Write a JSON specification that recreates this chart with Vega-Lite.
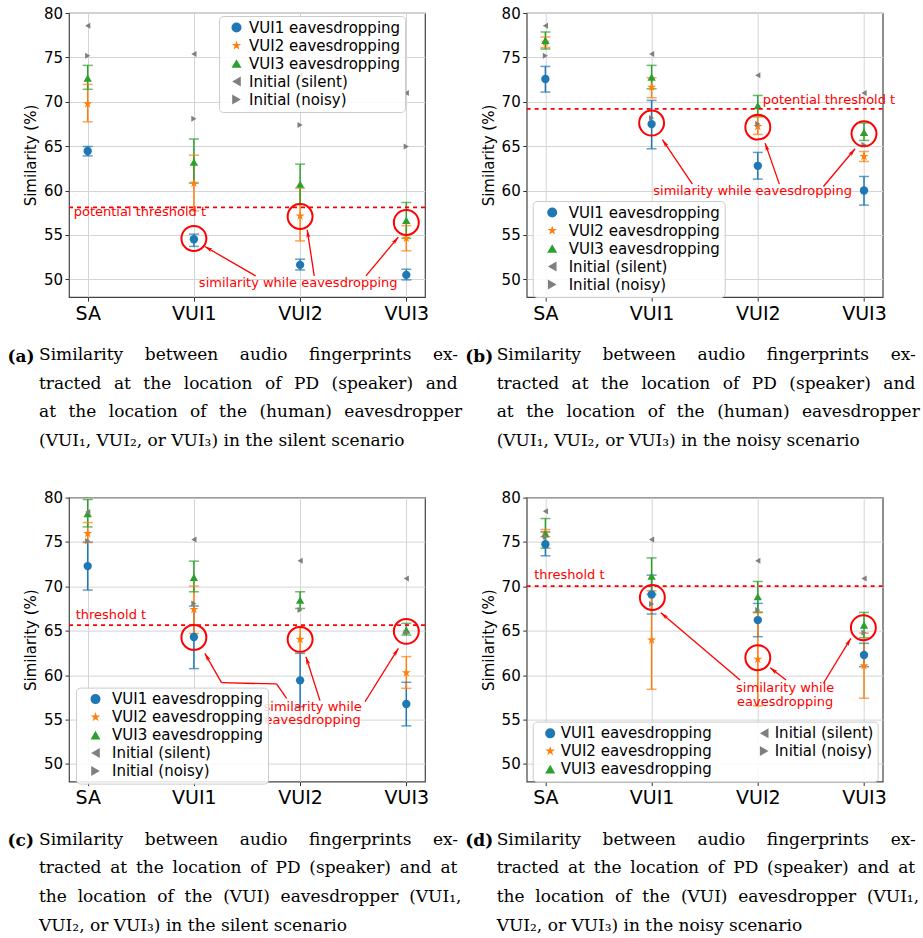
{
"$schema": "https://vega.github.io/schema/vega-lite/v6.json",
"background": "white",
"padding": {"left": 6, "top": 5, "right": 5, "bottom": 5},
"config": {
 "view": {"stroke": "#444444", "strokeWidth": 1.2},
 "axis": {"gridColor": "#d4d4d4", "gridWidth": 1, "domain": false, "tickColor": "#333333", "tickSize": 4, "tickWidth": 1, "labelColor": "#000000", "titleColor": "#000000", "labelFont": "DejaVu Sans"},
 "axisX": {"labelFontSize": 19, "labelPadding": 3, "titleFont": "DejaVu Serif", "titleFontSize": 17, "titleFontWeight": "bold", "titleX": -62, "titleY": 64, "titleAlign": "left", "titleBaseline": "alphabetic", "titleAnchor": "start"},
 "axisY": {"labelFontSize": 15, "labelPadding": 2.5, "titleFont": "DejaVu Sans", "titleFontSize": 15, "titleFontWeight": "normal", "titlePadding": 5},
 "legend": {"labelFont": "DejaVu Sans", "labelFontSize": 15, "labelColor": "#000000", "fillColor": "rgba(255,255,255,0.85)", "strokeColor": "#cccccc", "cornerRadius": 4, "padding": 4, "rowPadding": 2, "labelOffset": 5, "symbolOffset": 4, "labelLimit": 400},
 "title": {"orient": "bottom", "anchor": "start", "frame": "group", "align": "left", "baseline": "top", "dx": -30, "offset": -17, "font": "DejaVu Serif", "fontSize": 17, "fontWeight": "normal", "color": "#000000", "lineHeight": 28.7}
},
"datasets": {
 "pts": [
  {"p":"a","x":0,"s":"VUI1 eavesdropping","v":64.45,"lo":63.9,"hi":64.96},
  {"p":"a","x":0,"s":"VUI2 eavesdropping","v":69.77,"lo":67.74,"hi":71.95},
  {"p":"a","x":0,"s":"VUI3 eavesdropping","v":72.67,"lo":71.4,"hi":74.1},
  {"p":"a","x":0,"s":"Initial (silent)","v":78.57},
  {"p":"a","x":0,"s":"Initial (noisy)","v":75.19},
  {"p":"a","x":1,"s":"VUI1 eavesdropping","v":54.51,"lo":53.7,"hi":55.08},
  {"p":"a","x":1,"s":"VUI2 eavesdropping","v":60.83,"lo":57.7,"hi":63.98},
  {"p":"a","x":1,"s":"VUI3 eavesdropping","v":63.2,"lo":60.83,"hi":65.8},
  {"p":"a","x":1,"s":"Initial (silent)","v":75.38},
  {"p":"a","x":1,"s":"Initial (noisy)","v":68.08},
  {"p":"a","x":2,"s":"VUI1 eavesdropping","v":51.62,"lo":51.05,"hi":52.26},
  {"p":"a","x":2,"s":"VUI2 eavesdropping","v":57.14,"lo":54.32,"hi":60.26},
  {"p":"a","x":2,"s":"VUI3 eavesdropping","v":60.71,"lo":58.45,"hi":62.97},
  {"p":"a","x":2,"s":"Initial (silent)","v":73.0},
  {"p":"a","x":2,"s":"Initial (noisy)","v":67.37},
  {"p":"a","x":3,"s":"VUI1 eavesdropping","v":50.49,"lo":49.93,"hi":51.13},
  {"p":"a","x":3,"s":"VUI2 eavesdropping","v":54.62,"lo":53.2,"hi":56.04},
  {"p":"a","x":3,"s":"VUI3 eavesdropping","v":56.62,"lo":54.6,"hi":58.65},
  {"p":"a","x":3,"s":"Initial (silent)","v":71.0},
  {"p":"a","x":3,"s":"Initial (noisy)","v":64.96},
  {"p":"b","x":0,"s":"VUI1 eavesdropping","v":72.56,"lo":71.09,"hi":73.98},
  {"p":"b","x":0,"s":"VUI2 eavesdropping","v":76.7,"lo":76.1,"hi":77.3},
  {"p":"b","x":0,"s":"VUI3 eavesdropping","v":76.92,"lo":75.94,"hi":77.86},
  {"p":"b","x":0,"s":"Initial (silent)","v":78.57},
  {"p":"b","x":0,"s":"Initial (noisy)","v":75.19},
  {"p":"b","x":1,"s":"VUI1 eavesdropping","v":67.48,"lo":64.7,"hi":70.15},
  {"p":"b","x":1,"s":"VUI2 eavesdropping","v":71.65,"lo":70.45,"hi":72.71},
  {"p":"b","x":1,"s":"VUI3 eavesdropping","v":72.78,"lo":71.47,"hi":74.1},
  {"p":"b","x":1,"s":"Initial (silent)","v":75.38},
  {"p":"b","x":1,"s":"Initial (noisy)","v":68.16},
  {"p":"b","x":2,"s":"VUI1 eavesdropping","v":62.78,"lo":61.28,"hi":64.29},
  {"p":"b","x":2,"s":"VUI2 eavesdropping","v":67.22,"lo":66.32,"hi":68.27},
  {"p":"b","x":2,"s":"VUI3 eavesdropping","v":69.55,"lo":68.39,"hi":70.71},
  {"p":"b","x":2,"s":"Initial (silent)","v":73.0},
  {"p":"b","x":2,"s":"Initial (noisy)","v":67.48},
  {"p":"b","x":3,"s":"VUI1 eavesdropping","v":60.0,"lo":58.35,"hi":61.58},
  {"p":"b","x":3,"s":"VUI2 eavesdropping","v":63.83,"lo":63.27,"hi":64.4},
  {"p":"b","x":3,"s":"VUI3 eavesdropping","v":66.54,"lo":65.64,"hi":67.6},
  {"p":"b","x":3,"s":"Initial (silent)","v":70.98},
  {"p":"b","x":3,"s":"Initial (noisy)","v":65.15},
  {"p":"c","x":0,"s":"VUI1 eavesdropping","v":72.28,"lo":69.58,"hi":74.98},
  {"p":"c","x":0,"s":"VUI2 eavesdropping","v":75.95,"lo":74.94,"hi":77.19},
  {"p":"c","x":0,"s":"VUI3 eavesdropping","v":78.2,"lo":76.7,"hi":79.78},
  {"p":"c","x":0,"s":"Initial (silent)","v":78.39},
  {"p":"c","x":0,"s":"Initial (noisy)","v":75.1},
  {"p":"c","x":1,"s":"VUI1 eavesdropping","v":64.29,"lo":60.73,"hi":67.78},
  {"p":"c","x":1,"s":"VUI2 eavesdropping","v":67.4,"lo":64.7,"hi":70.03},
  {"p":"c","x":1,"s":"VUI3 eavesdropping","v":71.0,"lo":69.39,"hi":72.84},
  {"p":"c","x":1,"s":"Initial (silent)","v":75.28},
  {"p":"c","x":1,"s":"Initial (noisy)","v":68.08},
  {"p":"c","x":2,"s":"VUI1 eavesdropping","v":59.41,"lo":56.45,"hi":62.45},
  {"p":"c","x":2,"s":"VUI2 eavesdropping","v":64.03,"lo":62.6,"hi":65.45},
  {"p":"c","x":2,"s":"VUI3 eavesdropping","v":68.45,"lo":67.51,"hi":69.39},
  {"p":"c","x":2,"s":"Initial (silent)","v":72.88},
  {"p":"c","x":2,"s":"Initial (noisy)","v":67.33},
  {"p":"c","x":3,"s":"VUI1 eavesdropping","v":56.75,"lo":54.28,"hi":59.19},
  {"p":"c","x":3,"s":"VUI2 eavesdropping","v":60.28,"lo":58.51,"hi":62.08},
  {"p":"c","x":3,"s":"VUI3 eavesdropping","v":65.08,"lo":64.51,"hi":65.83},
  {"p":"c","x":3,"s":"Initial (silent)","v":70.89},
  {"p":"c","x":3,"s":"Initial (noisy)","v":64.8},
  {"p":"d","x":0,"s":"VUI1 eavesdropping","v":74.75,"lo":73.44,"hi":76.14},
  {"p":"d","x":0,"s":"VUI2 eavesdropping","v":76.0,"lo":75.6,"hi":76.4},
  {"p":"d","x":0,"s":"VUI3 eavesdropping","v":75.95,"lo":74.3,"hi":77.64},
  {"p":"d","x":0,"s":"Initial (silent)","v":78.46},
  {"p":"d","x":0,"s":"Initial (noisy)","v":75.58},
  {"p":"d","x":1,"s":"VUI1 eavesdropping","v":69.09,"lo":66.88,"hi":71.26},
  {"p":"d","x":1,"s":"VUI2 eavesdropping","v":63.95,"lo":58.4,"hi":69.5},
  {"p":"d","x":1,"s":"VUI3 eavesdropping","v":71.15,"lo":69.1,"hi":73.21},
  {"p":"d","x":1,"s":"Initial (silent)","v":75.28},
  {"p":"d","x":1,"s":"Initial (noisy)","v":68.0},
  {"p":"d","x":2,"s":"VUI1 eavesdropping","v":66.2,"lo":64.33,"hi":68.08},
  {"p":"d","x":2,"s":"VUI2 eavesdropping","v":61.78,"lo":56.53,"hi":67.03},
  {"p":"d","x":2,"s":"VUI3 eavesdropping","v":68.83,"lo":67.1,"hi":70.55},
  {"p":"d","x":2,"s":"Initial (silent)","v":72.88},
  {"p":"d","x":2,"s":"Initial (noisy)","v":67.33},
  {"p":"d","x":3,"s":"VUI1 eavesdropping","v":62.26,"lo":60.95,"hi":63.58},
  {"p":"d","x":3,"s":"VUI2 eavesdropping","v":61.06,"lo":57.39,"hi":64.73},
  {"p":"d","x":3,"s":"VUI3 eavesdropping","v":65.64,"lo":64.2,"hi":67.06},
  {"p":"d","x":3,"s":"Initial (silent)","v":70.89},
  {"p":"d","x":3,"s":"Initial (noisy)","v":64.78}
 ],
 "thr": [
  {"p":"a","v":58.1,"label":"potential threshold t","tx":-0.132,"ty":57.56},
  {"p":"b","v":69.2,"label":"potential threshold t","tx":2.047,"ty":70.2},
  {"p":"c","v":65.64,"label":"threshold t","tx":-0.113,"ty":66.73},
  {"p":"d","v":70.03,"label":"threshold t","tx":-0.106,"ty":71.26}
 ],
 "circ": [
  {"p":"a","x":1,"v":54.6},{"p":"a","x":2,"v":57.07},{"p":"a","x":3,"v":56.4},
  {"p":"b","x":1,"v":67.6},{"p":"b","x":2,"v":67.14},{"p":"b","x":3,"v":66.39},
  {"p":"c","x":1,"v":64.25},{"p":"c","x":2,"v":64.03},{"p":"c","x":3,"v":64.93},
  {"p":"d","x":1.007,"v":68.75},{"p":"d","x":2,"v":61.96},{"p":"d","x":2.994,"v":65.34}
 ],
 "notes": [
  {"p":"a","x":1.982,"v":49.55,"text":"similarity while eavesdropping"},
  {"p":"b","x":1.951,"v":59.96,"text":"similarity while eavesdropping"},
  {"p":"c","x":2.118,"v":56.45,"text":"similarity while"},
  {"p":"c","x":2.118,"v":54.95,"text":"eavesdropping"},
  {"p":"d","x":2.258,"v":58.52,"text":"similarity while"},
  {"p":"d","x":2.258,"v":56.94,"text":"eavesdropping"}
 ],
 "seg": [
  {"p":"a","x":1.581,"v":50.38,"x2":1.103,"v2":53.69},
  {"p":"a","x":2.133,"v":50.38,"x2":2.067,"v2":55.57},
  {"p":"a","x":2.62,"v":50.38,"x2":2.925,"v2":54.75},
  {"p":"b","x":1.384,"v":60.72,"x2":1.102,"v2":65.72},
  {"p":"b","x":2.203,"v":60.72,"x2":2.069,"v2":65.34},
  {"p":"b","x":2.618,"v":60.45,"x2":2.916,"v2":64.7},
  {"p":"c","x":1.873,"v":57.39,"x2":1.778,"v2":59.0},
  {"p":"c","x":1.778,"v":59.0,"x2":1.26,"v2":59.15},
  {"p":"c","x":1.26,"v":59.15,"x2":1.103,"v2":62.45},
  {"p":"c","x":2.187,"v":57.12,"x2":2.055,"v2":62.07},
  {"p":"c","x":2.611,"v":57.0,"x2":2.925,"v2":63.01},
  {"p":"d","x":1.833,"v":59.45,"x2":1.087,"v2":67.02},
  {"p":"d","x":2.266,"v":59.45,"x2":2.116,"v2":60.83},
  {"p":"d","x":2.618,"v":59.08,"x2":2.876,"v2":64.14}
 ],
 "heads": [
  {"p":"a","x":1.103,"v":53.69,"a":300},{"p":"a","x":2.067,"v":55.57,"a":351},{"p":"a","x":2.925,"v":54.75,"a":40},
  {"p":"b","x":1.102,"v":65.72,"a":326},{"p":"b","x":2.069,"v":65.34,"a":341},{"p":"b","x":2.916,"v":64.7,"a":40},
  {"p":"c","x":1.103,"v":62.45,"a":330},{"p":"c","x":2.055,"v":62.07,"a":342},{"p":"c","x":2.925,"v":63.01,"a":32},
  {"p":"d","x":1.087,"v":67.02,"a":310},{"p":"d","x":2.116,"v":60.83,"a":308},{"p":"d","x":2.876,"v":64.14,"a":31}
 ]
},
"columns": 2,
"spacing": {"row": 200.6, "column": 101.7},
"bounds": "flush",
"resolve": {"scale": {"color": "independent", "shape": "independent"}, "legend": {"color": "independent", "shape": "independent"}},
"concat": [
  {"width": 356, "height": 284,
   "title": {"text": ["Similarity\u00a0\u00a0\u00a0 between\u00a0\u00a0\u00a0 audio\u00a0\u00a0\u00a0 fingerprints\u00a0\u00a0\u00a0 ex-", "tracted\u00a0\u200a at\u00a0\u200a the\u00a0\u200a location\u00a0\u200a of\u00a0\u200a PD\u00a0\u200a (speaker)\u00a0\u200a and", "at\u00a0\u200a the\u00a0\u200a location\u00a0\u200a of\u00a0\u200a the\u00a0\u200a (human)\u00a0\u200a eavesdropper", "(VUI₁, VUI₂, or VUI₃) in the silent scenario"]},
   "layer": [
    {"data": {"name": "pts"}, "transform": [{"filter": "datum.p === 'a' && isValid(datum.lo)"}],
     "mark": {"type": "rule", "strokeWidth": 1.5},
     "encoding": {
      "x": {"field": "x", "type": "quantitative", "title": "(a)", "scale": {"domain": [-0.176, 3.176], "nice": false, "zero": false}, "axis": {"values": [0,1,2,3], "labelExpr": "['SA','VUI1','VUI2','VUI3'][datum.value]", "grid": true}},
      "y": {"field": "lo", "type": "quantitative", "title": "Similarity (%)", "scale": {"domain": [48, 80], "nice": false, "zero": false}, "axis": {"values": [50,55,60,65,70,75,80], "grid": true}},
      "y2": {"field": "hi"},
      "color": {"condition": [{"test": "datum.s === 'VUI1 eavesdropping'", "value": "#1f77b4"}, {"test": "datum.s === 'VUI2 eavesdropping'", "value": "#ff7f0e"}], "value": "#2ca02c"}}},
    {"data": {"name": "pts"}, "transform": [{"filter": "datum.p === 'a' && isValid(datum.lo)"}, {"fold": ["lo", "hi"], "as": ["k", "e"]}],
     "mark": {"type": "tick", "orient": "horizontal", "size": 10, "thickness": 1.5},
     "encoding": {
      "x": {"field": "x", "type": "quantitative", "title": "(a)", "scale": {"domain": [-0.176, 3.176], "nice": false, "zero": false}},
      "y": {"field": "e", "type": "quantitative", "title": "Similarity (%)", "scale": {"domain": [48, 80], "nice": false, "zero": false}},
      "color": {"condition": [{"test": "datum.s === 'VUI1 eavesdropping'", "value": "#1f77b4"}, {"test": "datum.s === 'VUI2 eavesdropping'", "value": "#ff7f0e"}], "value": "#2ca02c"}}},
    {"data": {"name": "pts"}, "transform": [{"filter": "datum.p === 'a'"}],
     "mark": {"type": "point", "filled": true, "opacity": 1},
     "encoding": {
      "x": {"field": "x", "type": "quantitative", "title": "(a)", "scale": {"domain": [-0.176, 3.176], "nice": false, "zero": false}},
      "y": {"field": "v", "type": "quantitative", "title": "Similarity (%)", "scale": {"domain": [48, 80], "nice": false, "zero": false}},
      "color": {"field": "s", "type": "nominal", "scale": {"domain": ["VUI1 eavesdropping", "VUI2 eavesdropping", "VUI3 eavesdropping", "Initial (silent)", "Initial (noisy)"], "range": ["#1f77b4", "#ff7f0e", "#2ca02c", "#7f7f7f", "#7f7f7f"]},
       "legend": {"orient": "none", "legendX": 150, "legendY": 3, "title": null, "symbolOffset": 6, "labelOffset": 5, "encode": {"symbols": {"update": {"size": {"signal": "datum.value === 'Initial (silent)' || datum.value === 'Initial (noisy)' ? 30 : datum.value === 'VUI2 eavesdropping' ? 80 : 64"}}}}}},
      "shape": {"field": "s", "type": "nominal", "scale": {"domain": ["VUI1 eavesdropping", "VUI2 eavesdropping", "VUI3 eavesdropping", "Initial (silent)", "Initial (noisy)"], "range": ["circle", "M0,-1L0.2245,-0.309L0.9511,-0.309L0.3633,0.118L0.5878,0.809L0,0.382L-0.5878,0.809L-0.3633,0.118L-0.9511,-0.309L-0.2245,-0.309Z", "triangle-up", "triangle-left", "triangle-right"]}},
      "size": {"condition": [{"test": "datum.s === 'Initial (silent)' || datum.s === 'Initial (noisy)'", "value": 36}, {"test": "datum.s === 'VUI2 eavesdropping'", "value": 90}], "value": 70}}},
    {"data": {"name": "thr"}, "transform": [{"filter": "datum.p === 'a'"}],
     "mark": {"type": "rule", "color": "#ff0000", "strokeWidth": 1.8, "strokeDash": [4, 4]},
     "encoding": {"y": {"field": "v", "type": "quantitative", "title": "Similarity (%)", "scale": {"domain": [48, 80], "nice": false, "zero": false}}}},
    {"data": {"name": "thr"}, "transform": [{"filter": "datum.p === 'a'"}],
     "mark": {"type": "text", "align": "left", "baseline": "middle", "color": "#ff0000", "fontSize": 13, "font": "DejaVu Sans"},
     "encoding": {
      "x": {"field": "tx", "type": "quantitative", "title": "(a)", "scale": {"domain": [-0.176, 3.176], "nice": false, "zero": false}},
      "y": {"field": "ty", "type": "quantitative", "title": "Similarity (%)", "scale": {"domain": [48, 80], "nice": false, "zero": false}},
      "text": {"field": "label"}}},
    {"data": {"name": "circ"}, "transform": [{"filter": "datum.p === 'a'"}],
     "mark": {"type": "point", "shape": "circle", "filled": false, "color": "#ff0000", "strokeWidth": 2, "size": 620, "opacity": 1},
     "encoding": {
      "x": {"field": "x", "type": "quantitative", "title": "(a)", "scale": {"domain": [-0.176, 3.176], "nice": false, "zero": false}},
      "y": {"field": "v", "type": "quantitative", "title": "Similarity (%)", "scale": {"domain": [48, 80], "nice": false, "zero": false}}}},
    {"data": {"name": "seg"}, "transform": [{"filter": "datum.p === 'a'"}],
     "mark": {"type": "rule", "color": "#ff0000", "strokeWidth": 1.3},
     "encoding": {
      "x": {"field": "x", "type": "quantitative", "title": "(a)", "scale": {"domain": [-0.176, 3.176], "nice": false, "zero": false}},
      "y": {"field": "v", "type": "quantitative", "title": "Similarity (%)", "scale": {"domain": [48, 80], "nice": false, "zero": false}},
      "x2": {"field": "x2"}, "y2": {"field": "v2"}}},
    {"data": {"name": "heads"}, "transform": [{"filter": "datum.p === 'a'"}],
     "mark": {"type": "point", "shape": "M0,0L-0.5,2L0,1.5L0.5,2Z", "filled": true, "color": "#ff0000", "size": 64, "opacity": 1},
     "encoding": {
      "x": {"field": "x", "type": "quantitative", "title": "(a)", "scale": {"domain": [-0.176, 3.176], "nice": false, "zero": false}},
      "y": {"field": "v", "type": "quantitative", "title": "Similarity (%)", "scale": {"domain": [48, 80], "nice": false, "zero": false}},
      "angle": {"field": "a", "type": "quantitative", "scale": null}}},
    {"data": {"name": "notes"}, "transform": [{"filter": "datum.p === 'a'"}],
     "mark": {"type": "text", "align": "center", "baseline": "middle", "color": "#ff0000", "fontSize": 13, "font": "DejaVu Sans"},
     "encoding": {
      "x": {"field": "x", "type": "quantitative", "title": "(a)", "scale": {"domain": [-0.176, 3.176], "nice": false, "zero": false}},
      "y": {"field": "v", "type": "quantitative", "title": "Similarity (%)", "scale": {"domain": [48, 80], "nice": false, "zero": false}},
      "text": {"field": "text"}}}
   ]},
  {"width": 356, "height": 284,
   "title": {"text": ["Similarity\u00a0\u00a0\u00a0 between\u00a0\u00a0\u00a0 audio\u00a0\u00a0\u00a0 fingerprints\u00a0\u00a0\u00a0 ex-", "tracted\u00a0\u200a at\u00a0\u200a the\u00a0\u200a location\u00a0\u200a of\u00a0\u200a PD\u00a0\u200a (speaker)\u00a0\u200a and", "at\u00a0\u200a the\u00a0\u200a location\u00a0\u200a of\u00a0\u200a the\u00a0\u200a (human)\u00a0\u200a eavesdropper", "(VUI₁, VUI₂, or VUI₃) in the noisy scenario"]},
   "layer": [
    {"data": {"name": "pts"}, "transform": [{"filter": "datum.p === 'b' && isValid(datum.lo)"}],
     "mark": {"type": "rule", "strokeWidth": 1.5},
     "encoding": {
      "x": {"field": "x", "type": "quantitative", "title": "(b)", "scale": {"domain": [-0.176, 3.176], "nice": false, "zero": false}, "axis": {"values": [0,1,2,3], "labelExpr": "['SA','VUI1','VUI2','VUI3'][datum.value]", "grid": true}},
      "y": {"field": "lo", "type": "quantitative", "title": "Similarity (%)", "scale": {"domain": [48, 80], "nice": false, "zero": false}, "axis": {"values": [50,55,60,65,70,75,80], "grid": true}},
      "y2": {"field": "hi"},
      "color": {"condition": [{"test": "datum.s === 'VUI1 eavesdropping'", "value": "#1f77b4"}, {"test": "datum.s === 'VUI2 eavesdropping'", "value": "#ff7f0e"}], "value": "#2ca02c"}}},
    {"data": {"name": "pts"}, "transform": [{"filter": "datum.p === 'b' && isValid(datum.lo)"}, {"fold": ["lo", "hi"], "as": ["k", "e"]}],
     "mark": {"type": "tick", "orient": "horizontal", "size": 10, "thickness": 1.5},
     "encoding": {
      "x": {"field": "x", "type": "quantitative", "title": "(b)", "scale": {"domain": [-0.176, 3.176], "nice": false, "zero": false}},
      "y": {"field": "e", "type": "quantitative", "title": "Similarity (%)", "scale": {"domain": [48, 80], "nice": false, "zero": false}},
      "color": {"condition": [{"test": "datum.s === 'VUI1 eavesdropping'", "value": "#1f77b4"}, {"test": "datum.s === 'VUI2 eavesdropping'", "value": "#ff7f0e"}], "value": "#2ca02c"}}},
    {"data": {"name": "pts"}, "transform": [{"filter": "datum.p === 'b'"}],
     "mark": {"type": "point", "filled": true, "opacity": 1},
     "encoding": {
      "x": {"field": "x", "type": "quantitative", "title": "(b)", "scale": {"domain": [-0.176, 3.176], "nice": false, "zero": false}},
      "y": {"field": "v", "type": "quantitative", "title": "Similarity (%)", "scale": {"domain": [48, 80], "nice": false, "zero": false}},
      "color": {"field": "s", "type": "nominal", "scale": {"domain": ["VUI1 eavesdropping", "VUI2 eavesdropping", "VUI3 eavesdropping", "Initial (silent)", "Initial (noisy)"], "range": ["#1f77b4", "#ff7f0e", "#2ca02c", "#7f7f7f", "#7f7f7f"]},
       "legend": {"orient": "none", "legendX": 6, "legendY": 188, "title": null, "labelOffset": 9, "symbolOffset": 8, "encode": {"symbols": {"update": {"size": {"signal": "datum.value === 'Initial (silent)' || datum.value === 'Initial (noisy)' ? 30 : datum.value === 'VUI2 eavesdropping' ? 80 : 64"}}}}}},
      "shape": {"field": "s", "type": "nominal", "scale": {"domain": ["VUI1 eavesdropping", "VUI2 eavesdropping", "VUI3 eavesdropping", "Initial (silent)", "Initial (noisy)"], "range": ["circle", "M0,-1L0.2245,-0.309L0.9511,-0.309L0.3633,0.118L0.5878,0.809L0,0.382L-0.5878,0.809L-0.3633,0.118L-0.9511,-0.309L-0.2245,-0.309Z", "triangle-up", "triangle-left", "triangle-right"]}},
      "size": {"condition": [{"test": "datum.s === 'Initial (silent)' || datum.s === 'Initial (noisy)'", "value": 36}, {"test": "datum.s === 'VUI2 eavesdropping'", "value": 90}], "value": 70}}},
    {"data": {"name": "thr"}, "transform": [{"filter": "datum.p === 'b'"}],
     "mark": {"type": "rule", "color": "#ff0000", "strokeWidth": 1.8, "strokeDash": [4, 4]},
     "encoding": {"y": {"field": "v", "type": "quantitative", "title": "Similarity (%)", "scale": {"domain": [48, 80], "nice": false, "zero": false}}}},
    {"data": {"name": "thr"}, "transform": [{"filter": "datum.p === 'b'"}],
     "mark": {"type": "text", "align": "left", "baseline": "middle", "color": "#ff0000", "fontSize": 13, "font": "DejaVu Sans"},
     "encoding": {
      "x": {"field": "tx", "type": "quantitative", "title": "(b)", "scale": {"domain": [-0.176, 3.176], "nice": false, "zero": false}},
      "y": {"field": "ty", "type": "quantitative", "title": "Similarity (%)", "scale": {"domain": [48, 80], "nice": false, "zero": false}},
      "text": {"field": "label"}}},
    {"data": {"name": "circ"}, "transform": [{"filter": "datum.p === 'b'"}],
     "mark": {"type": "point", "shape": "circle", "filled": false, "color": "#ff0000", "strokeWidth": 2, "size": 620, "opacity": 1},
     "encoding": {
      "x": {"field": "x", "type": "quantitative", "title": "(b)", "scale": {"domain": [-0.176, 3.176], "nice": false, "zero": false}},
      "y": {"field": "v", "type": "quantitative", "title": "Similarity (%)", "scale": {"domain": [48, 80], "nice": false, "zero": false}}}},
    {"data": {"name": "seg"}, "transform": [{"filter": "datum.p === 'b'"}],
     "mark": {"type": "rule", "color": "#ff0000", "strokeWidth": 1.3},
     "encoding": {
      "x": {"field": "x", "type": "quantitative", "title": "(b)", "scale": {"domain": [-0.176, 3.176], "nice": false, "zero": false}},
      "y": {"field": "v", "type": "quantitative", "title": "Similarity (%)", "scale": {"domain": [48, 80], "nice": false, "zero": false}},
      "x2": {"field": "x2"}, "y2": {"field": "v2"}}},
    {"data": {"name": "heads"}, "transform": [{"filter": "datum.p === 'b'"}],
     "mark": {"type": "point", "shape": "M0,0L-0.5,2L0,1.5L0.5,2Z", "filled": true, "color": "#ff0000", "size": 64, "opacity": 1},
     "encoding": {
      "x": {"field": "x", "type": "quantitative", "title": "(b)", "scale": {"domain": [-0.176, 3.176], "nice": false, "zero": false}},
      "y": {"field": "v", "type": "quantitative", "title": "Similarity (%)", "scale": {"domain": [48, 80], "nice": false, "zero": false}},
      "angle": {"field": "a", "type": "quantitative", "scale": null}}},
    {"data": {"name": "notes"}, "transform": [{"filter": "datum.p === 'b'"}],
     "mark": {"type": "text", "align": "center", "baseline": "middle", "color": "#ff0000", "fontSize": 13, "font": "DejaVu Sans"},
     "encoding": {
      "x": {"field": "x", "type": "quantitative", "title": "(b)", "scale": {"domain": [-0.176, 3.176], "nice": false, "zero": false}},
      "y": {"field": "v", "type": "quantitative", "title": "Similarity (%)", "scale": {"domain": [48, 80], "nice": false, "zero": false}},
      "text": {"field": "text"}}}
   ]},
  {"width": 356, "height": 284,
   "title": {"text": ["Similarity\u00a0\u00a0\u00a0 between\u00a0\u00a0\u00a0 audio\u00a0\u00a0\u00a0 fingerprints\u00a0\u00a0\u00a0 ex-", "tracted\u2009 at\u2009 the\u2009 location\u2009 of\u2009 PD\u2009 (speaker)\u2009 and\u2009 at", "the\u00a0 location\u00a0 of\u00a0 the\u00a0 (VUI)\u00a0 eavesdropper\u00a0 (VUI₁,", "VUI₂, or VUI₃) in the silent scenario"]},
   "layer": [
    {"data": {"name": "pts"}, "transform": [{"filter": "datum.p === 'c' && isValid(datum.lo)"}],
     "mark": {"type": "rule", "strokeWidth": 1.5},
     "encoding": {
      "x": {"field": "x", "type": "quantitative", "title": "(c)", "scale": {"domain": [-0.176, 3.176], "nice": false, "zero": false}, "axis": {"values": [0,1,2,3], "labelExpr": "['SA','VUI1','VUI2','VUI3'][datum.value]", "grid": true}},
      "y": {"field": "lo", "type": "quantitative", "title": "Similarity (%)", "scale": {"domain": [48, 80], "nice": false, "zero": false}, "axis": {"values": [50,55,60,65,70,75,80], "grid": true}},
      "y2": {"field": "hi"},
      "color": {"condition": [{"test": "datum.s === 'VUI1 eavesdropping'", "value": "#1f77b4"}, {"test": "datum.s === 'VUI2 eavesdropping'", "value": "#ff7f0e"}], "value": "#2ca02c"}}},
    {"data": {"name": "pts"}, "transform": [{"filter": "datum.p === 'c' && isValid(datum.lo)"}, {"fold": ["lo", "hi"], "as": ["k", "e"]}],
     "mark": {"type": "tick", "orient": "horizontal", "size": 10, "thickness": 1.5},
     "encoding": {
      "x": {"field": "x", "type": "quantitative", "title": "(c)", "scale": {"domain": [-0.176, 3.176], "nice": false, "zero": false}},
      "y": {"field": "e", "type": "quantitative", "title": "Similarity (%)", "scale": {"domain": [48, 80], "nice": false, "zero": false}},
      "color": {"condition": [{"test": "datum.s === 'VUI1 eavesdropping'", "value": "#1f77b4"}, {"test": "datum.s === 'VUI2 eavesdropping'", "value": "#ff7f0e"}], "value": "#2ca02c"}}},
    {"data": {"name": "pts"}, "transform": [{"filter": "datum.p === 'c'"}],
     "mark": {"type": "point", "filled": true, "opacity": 1},
     "encoding": {
      "x": {"field": "x", "type": "quantitative", "title": "(c)", "scale": {"domain": [-0.176, 3.176], "nice": false, "zero": false}},
      "y": {"field": "v", "type": "quantitative", "title": "Similarity (%)", "scale": {"domain": [48, 80], "nice": false, "zero": false}},
      "color": {"field": "s", "type": "nominal", "scale": {"domain": ["VUI1 eavesdropping", "VUI2 eavesdropping", "VUI3 eavesdropping", "Initial (silent)", "Initial (noisy)"], "range": ["#1f77b4", "#ff7f0e", "#2ca02c", "#7f7f7f", "#7f7f7f"]},
       "legend": {"orient": "none", "legendX": 7, "legendY": 190, "title": null, "labelOffset": 9, "symbolOffset": 8, "encode": {"symbols": {"update": {"size": {"signal": "datum.value === 'Initial (silent)' || datum.value === 'Initial (noisy)' ? 30 : datum.value === 'VUI2 eavesdropping' ? 80 : 64"}}}}}},
      "shape": {"field": "s", "type": "nominal", "scale": {"domain": ["VUI1 eavesdropping", "VUI2 eavesdropping", "VUI3 eavesdropping", "Initial (silent)", "Initial (noisy)"], "range": ["circle", "M0,-1L0.2245,-0.309L0.9511,-0.309L0.3633,0.118L0.5878,0.809L0,0.382L-0.5878,0.809L-0.3633,0.118L-0.9511,-0.309L-0.2245,-0.309Z", "triangle-up", "triangle-left", "triangle-right"]}},
      "size": {"condition": [{"test": "datum.s === 'Initial (silent)' || datum.s === 'Initial (noisy)'", "value": 36}, {"test": "datum.s === 'VUI2 eavesdropping'", "value": 90}], "value": 70}}},
    {"data": {"name": "thr"}, "transform": [{"filter": "datum.p === 'c'"}],
     "mark": {"type": "rule", "color": "#ff0000", "strokeWidth": 1.8, "strokeDash": [4, 4]},
     "encoding": {"y": {"field": "v", "type": "quantitative", "title": "Similarity (%)", "scale": {"domain": [48, 80], "nice": false, "zero": false}}}},
    {"data": {"name": "thr"}, "transform": [{"filter": "datum.p === 'c'"}],
     "mark": {"type": "text", "align": "left", "baseline": "middle", "color": "#ff0000", "fontSize": 13, "font": "DejaVu Sans"},
     "encoding": {
      "x": {"field": "tx", "type": "quantitative", "title": "(c)", "scale": {"domain": [-0.176, 3.176], "nice": false, "zero": false}},
      "y": {"field": "ty", "type": "quantitative", "title": "Similarity (%)", "scale": {"domain": [48, 80], "nice": false, "zero": false}},
      "text": {"field": "label"}}},
    {"data": {"name": "circ"}, "transform": [{"filter": "datum.p === 'c'"}],
     "mark": {"type": "point", "shape": "circle", "filled": false, "color": "#ff0000", "strokeWidth": 2, "size": 620, "opacity": 1},
     "encoding": {
      "x": {"field": "x", "type": "quantitative", "title": "(c)", "scale": {"domain": [-0.176, 3.176], "nice": false, "zero": false}},
      "y": {"field": "v", "type": "quantitative", "title": "Similarity (%)", "scale": {"domain": [48, 80], "nice": false, "zero": false}}}},
    {"data": {"name": "seg"}, "transform": [{"filter": "datum.p === 'c'"}],
     "mark": {"type": "rule", "color": "#ff0000", "strokeWidth": 1.3},
     "encoding": {
      "x": {"field": "x", "type": "quantitative", "title": "(c)", "scale": {"domain": [-0.176, 3.176], "nice": false, "zero": false}},
      "y": {"field": "v", "type": "quantitative", "title": "Similarity (%)", "scale": {"domain": [48, 80], "nice": false, "zero": false}},
      "x2": {"field": "x2"}, "y2": {"field": "v2"}}},
    {"data": {"name": "heads"}, "transform": [{"filter": "datum.p === 'c'"}],
     "mark": {"type": "point", "shape": "M0,0L-0.5,2L0,1.5L0.5,2Z", "filled": true, "color": "#ff0000", "size": 64, "opacity": 1},
     "encoding": {
      "x": {"field": "x", "type": "quantitative", "title": "(c)", "scale": {"domain": [-0.176, 3.176], "nice": false, "zero": false}},
      "y": {"field": "v", "type": "quantitative", "title": "Similarity (%)", "scale": {"domain": [48, 80], "nice": false, "zero": false}},
      "angle": {"field": "a", "type": "quantitative", "scale": null}}},
    {"data": {"name": "notes"}, "transform": [{"filter": "datum.p === 'c'"}],
     "mark": {"type": "text", "align": "center", "baseline": "middle", "color": "#ff0000", "fontSize": 13, "font": "DejaVu Sans"},
     "encoding": {
      "x": {"field": "x", "type": "quantitative", "title": "(c)", "scale": {"domain": [-0.176, 3.176], "nice": false, "zero": false}},
      "y": {"field": "v", "type": "quantitative", "title": "Similarity (%)", "scale": {"domain": [48, 80], "nice": false, "zero": false}},
      "text": {"field": "text"}}}
   ]},
  {"width": 356, "height": 284,
   "title": {"text": ["Similarity\u00a0\u00a0\u00a0 between\u00a0\u00a0\u00a0 audio\u00a0\u00a0\u00a0 fingerprints\u00a0\u00a0\u00a0 ex-", "tracted\u2009 at\u2009 the\u2009 location\u2009 of\u2009 PD\u2009 (speaker)\u2009 and\u2009 at", "the\u00a0 location\u00a0 of\u00a0 the\u00a0 (VUI)\u00a0 eavesdropper\u00a0 (VUI₁,", "VUI₂, or VUI₃) in the noisy scenario"]},
   "layer": [
    {"data": {"name": "pts"}, "transform": [{"filter": "datum.p === 'd' && isValid(datum.lo)"}],
     "mark": {"type": "rule", "strokeWidth": 1.5},
     "encoding": {
      "x": {"field": "x", "type": "quantitative", "title": "(d)", "scale": {"domain": [-0.176, 3.176], "nice": false, "zero": false}, "axis": {"values": [0,1,2,3], "labelExpr": "['SA','VUI1','VUI2','VUI3'][datum.value]", "grid": true}},
      "y": {"field": "lo", "type": "quantitative", "title": "Similarity (%)", "scale": {"domain": [48, 80], "nice": false, "zero": false}, "axis": {"values": [50,55,60,65,70,75,80], "grid": true}},
      "y2": {"field": "hi"},
      "color": {"condition": [{"test": "datum.s === 'VUI1 eavesdropping'", "value": "#1f77b4"}, {"test": "datum.s === 'VUI2 eavesdropping'", "value": "#ff7f0e"}], "value": "#2ca02c"}}},
    {"data": {"name": "pts"}, "transform": [{"filter": "datum.p === 'd' && isValid(datum.lo)"}, {"fold": ["lo", "hi"], "as": ["k", "e"]}],
     "mark": {"type": "tick", "orient": "horizontal", "size": 10, "thickness": 1.5},
     "encoding": {
      "x": {"field": "x", "type": "quantitative", "title": "(d)", "scale": {"domain": [-0.176, 3.176], "nice": false, "zero": false}},
      "y": {"field": "e", "type": "quantitative", "title": "Similarity (%)", "scale": {"domain": [48, 80], "nice": false, "zero": false}},
      "color": {"condition": [{"test": "datum.s === 'VUI1 eavesdropping'", "value": "#1f77b4"}, {"test": "datum.s === 'VUI2 eavesdropping'", "value": "#ff7f0e"}], "value": "#2ca02c"}}},
    {"data": {"name": "pts"}, "transform": [{"filter": "datum.p === 'd'"}],
     "mark": {"type": "point", "filled": true, "opacity": 1},
     "encoding": {
      "x": {"field": "x", "type": "quantitative", "title": "(d)", "scale": {"domain": [-0.176, 3.176], "nice": false, "zero": false}},
      "y": {"field": "v", "type": "quantitative", "title": "Similarity (%)", "scale": {"domain": [48, 80], "nice": false, "zero": false}},
      "color": {"field": "s", "type": "nominal", "scale": {"domain": ["VUI1 eavesdropping", "VUI2 eavesdropping", "VUI3 eavesdropping", "Initial (silent)", "Initial (noisy)"], "range": ["#1f77b4", "#ff7f0e", "#2ca02c", "#7f7f7f", "#7f7f7f"]},
       "legend": {"orient": "none", "legendX": 6, "legendY": 224, "title": null, "columns": 2, "columnPadding": 38, "labelOffset": 3, "symbolOffset": 6, "encode": {"symbols": {"update": {"size": {"signal": "datum.value === 'Initial (silent)' || datum.value === 'Initial (noisy)' ? 30 : datum.value === 'VUI2 eavesdropping' ? 80 : 64"}}}}}},
      "shape": {"field": "s", "type": "nominal", "scale": {"domain": ["VUI1 eavesdropping", "VUI2 eavesdropping", "VUI3 eavesdropping", "Initial (silent)", "Initial (noisy)"], "range": ["circle", "M0,-1L0.2245,-0.309L0.9511,-0.309L0.3633,0.118L0.5878,0.809L0,0.382L-0.5878,0.809L-0.3633,0.118L-0.9511,-0.309L-0.2245,-0.309Z", "triangle-up", "triangle-left", "triangle-right"]}},
      "size": {"condition": [{"test": "datum.s === 'Initial (silent)' || datum.s === 'Initial (noisy)'", "value": 36}, {"test": "datum.s === 'VUI2 eavesdropping'", "value": 90}], "value": 70}}},
    {"data": {"name": "thr"}, "transform": [{"filter": "datum.p === 'd'"}],
     "mark": {"type": "rule", "color": "#ff0000", "strokeWidth": 1.8, "strokeDash": [4, 4]},
     "encoding": {"y": {"field": "v", "type": "quantitative", "title": "Similarity (%)", "scale": {"domain": [48, 80], "nice": false, "zero": false}}}},
    {"data": {"name": "thr"}, "transform": [{"filter": "datum.p === 'd'"}],
     "mark": {"type": "text", "align": "left", "baseline": "middle", "color": "#ff0000", "fontSize": 13, "font": "DejaVu Sans"},
     "encoding": {
      "x": {"field": "tx", "type": "quantitative", "title": "(d)", "scale": {"domain": [-0.176, 3.176], "nice": false, "zero": false}},
      "y": {"field": "ty", "type": "quantitative", "title": "Similarity (%)", "scale": {"domain": [48, 80], "nice": false, "zero": false}},
      "text": {"field": "label"}}},
    {"data": {"name": "circ"}, "transform": [{"filter": "datum.p === 'd'"}],
     "mark": {"type": "point", "shape": "circle", "filled": false, "color": "#ff0000", "strokeWidth": 2, "size": 620, "opacity": 1},
     "encoding": {
      "x": {"field": "x", "type": "quantitative", "title": "(d)", "scale": {"domain": [-0.176, 3.176], "nice": false, "zero": false}},
      "y": {"field": "v", "type": "quantitative", "title": "Similarity (%)", "scale": {"domain": [48, 80], "nice": false, "zero": false}}}},
    {"data": {"name": "seg"}, "transform": [{"filter": "datum.p === 'd'"}],
     "mark": {"type": "rule", "color": "#ff0000", "strokeWidth": 1.3},
     "encoding": {
      "x": {"field": "x", "type": "quantitative", "title": "(d)", "scale": {"domain": [-0.176, 3.176], "nice": false, "zero": false}},
      "y": {"field": "v", "type": "quantitative", "title": "Similarity (%)", "scale": {"domain": [48, 80], "nice": false, "zero": false}},
      "x2": {"field": "x2"}, "y2": {"field": "v2"}}},
    {"data": {"name": "heads"}, "transform": [{"filter": "datum.p === 'd'"}],
     "mark": {"type": "point", "shape": "M0,0L-0.5,2L0,1.5L0.5,2Z", "filled": true, "color": "#ff0000", "size": 64, "opacity": 1},
     "encoding": {
      "x": {"field": "x", "type": "quantitative", "title": "(d)", "scale": {"domain": [-0.176, 3.176], "nice": false, "zero": false}},
      "y": {"field": "v", "type": "quantitative", "title": "Similarity (%)", "scale": {"domain": [48, 80], "nice": false, "zero": false}},
      "angle": {"field": "a", "type": "quantitative", "scale": null}}},
    {"data": {"name": "notes"}, "transform": [{"filter": "datum.p === 'd'"}],
     "mark": {"type": "text", "align": "center", "baseline": "middle", "color": "#ff0000", "fontSize": 13, "font": "DejaVu Sans"},
     "encoding": {
      "x": {"field": "x", "type": "quantitative", "title": "(d)", "scale": {"domain": [-0.176, 3.176], "nice": false, "zero": false}},
      "y": {"field": "v", "type": "quantitative", "title": "Similarity (%)", "scale": {"domain": [48, 80], "nice": false, "zero": false}},
      "text": {"field": "text"}}}
   ]}
]
}
